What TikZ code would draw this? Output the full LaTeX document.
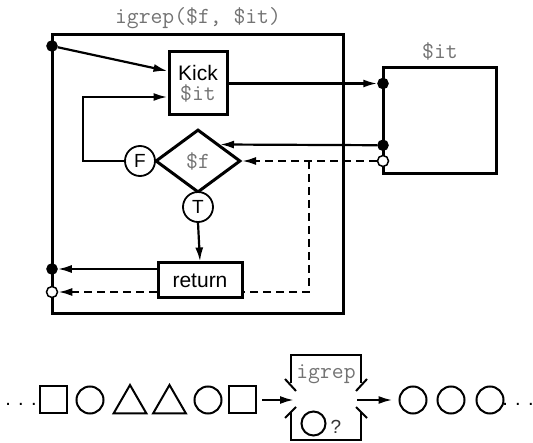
\documentclass[tikz,border=0pt]{standalone}
\usepackage{fontspec}
\setmainfont{Liberation Sans}
\usetikzlibrary{arrows.meta,shapes.geometric}

\begin{document}
\begin{tikzpicture}[x=1pt, y=-1pt, >={Latex[length=14pt,width=8pt]},
		conn/.style={line width=2.2pt},
		brk/.style={dash pattern=on 8pt off 5pt},
		blk/.style={draw, line width=3pt, inner sep=0pt},
		code/.style={font=\fontsize{23}{23}\selectfont\ttfamily, text=black!55},
		lbl/.style={font=\fontsize{21}{23}\selectfont},
		tf/.style={draw, circle, line width=1.8pt, minimum size=30pt, inner sep=0pt, fill=white, font=\fontsize{19}{19}\selectfont},
		port/.style={draw, circle, line width=1.5pt, minimum size=10pt, inner sep=0pt, fill=black},
		oport/.style={port, fill=white, minimum size=11pt},
		item/.style={draw, line width=2pt, inner sep=0pt}]
	\useasboundingbox (0,0) rectangle (533,443);

	% Функция igrep
	\node[code] (title) at (198,18) {igrep(\$f, \$it)};
	\node[blk, minimum width=291pt, minimum height=279pt] (igrepbox) at (197.5,174.5) {};
	\node[blk, lbl, minimum width=58pt, minimum height=63pt, align=center] (kick) at (198,83.5)
		{Kick\\[-3pt]{\fontsize{23}{23}\selectfont\ttfamily\color{black!55}\$it}};
	\node[blk, diamond, minimum width=85pt, minimum height=63pt, code] (test) at (198,161) {\$f};
	\node[tf] (fcirc) at (140,161) {F};
	\node[tf] (tcirc) at (198,207) {T};
	\node[blk, lbl, minimum width=84pt, minimum height=35pt] (ret) at (200,280.5) {return};

	% Итератор
	\node[code] (itlabel) at (440,51) {\$it};
	\node[blk, minimum width=113pt, minimum height=106pt] (itbox) at (439.5,121) {};

	% Порты
	\node[port] (start) at (52,46) {};
	\node[port] (done) at (52,269) {};
	\node[oport] (fail) at (52,292) {};
	\node[port] (next) at (383,83.5) {};
	\node[port] (value) at (383,145.25) {};
	\node[oport] (empty) at (383,161) {};
	\coordinate (split) at (309,161);

	% Связи
	\draw[conn, ->] (start) -- ([yshift=12.5pt]kick.west);
	\draw[conn, ->] (kick.east) -- (next);
	\draw[conn, ->] (value) -- (test.north east);
	\draw[conn, ->] (fcirc.west) -- ++(-41,0) |- ([yshift=-13.5pt]kick.west);
	\draw[conn, ->] (tcirc.south) -- (ret.north);
	\draw[conn, ->] ([yshift=11.5pt]ret.west) -- (done);
	\draw[conn, brk, ->] (empty) -- (test.east);
	\draw[conn, brk] (split) |- ([yshift=-11.5pt]ret.east);
	\draw[conn, brk, ->] ([yshift=-11.5pt]ret.west) -- (fail);

	% Поток значений
	\node[font=\fontsize{20}{20}\selectfont, inner sep=0pt] (lead) at (21,404) {. . .};
	\node[item, minimum size=27pt] (s1) at (53.5,400) {};
	\node[item, circle, minimum size=27pt] (c1) at (90,400) {};
	\node[item, regular polygon, regular polygon sides=3, minimum size=38pt] (t1) at (130,404) {};
	\node[item, regular polygon, regular polygon sides=3, minimum size=38pt] (t2) at (169.5,404) {};
	\node[item, circle, minimum size=27pt] (c2) at (208,400) {};
	\node[item, minimum size=27pt] (s2) at (242.5,400) {};
	\coordinate (mouthin) at (294,400);
	\coordinate (mouthout) at (357,400);
	\draw[conn, ->] ([xshift=5pt]s2.east) -- (mouthin);

	% igrep как фильтр
	\draw[item] (291,383) -- (291,355) -- (361,355) -- (361,383);
	\draw[item] (285,379) -- (296,391);
	\draw[item] (356,391) -- (367,379);
	\draw[item] (291,412) -- (291,440) -- (361,440) -- (361,412);
	\draw[item] (285,418) -- (296,407);
	\draw[item] (356,407) -- (367,418);
	\node[code] (mname) at (326,374) {igrep};
	\node[item, circle, minimum size=24pt] (probe) at (313.5,423.5) {};
	\node[font=\fontsize{19}{19}\selectfont, text=black!80] (qm) at (336,427) {?};

	\node[item, circle, minimum size=27pt] (c3) at (413,400) {};
	\node[item, circle, minimum size=27pt] (c4) at (451,400) {};
	\node[item, circle, minimum size=27pt] (c5) at (490,400) {};
	\node[font=\fontsize{20}{20}\selectfont, inner sep=0pt] (trail) at (518,404) {. . .};
	\draw[conn, ->] (mouthout) -- ([xshift=-6pt]c3.west);
\end{tikzpicture}
\end{document}
